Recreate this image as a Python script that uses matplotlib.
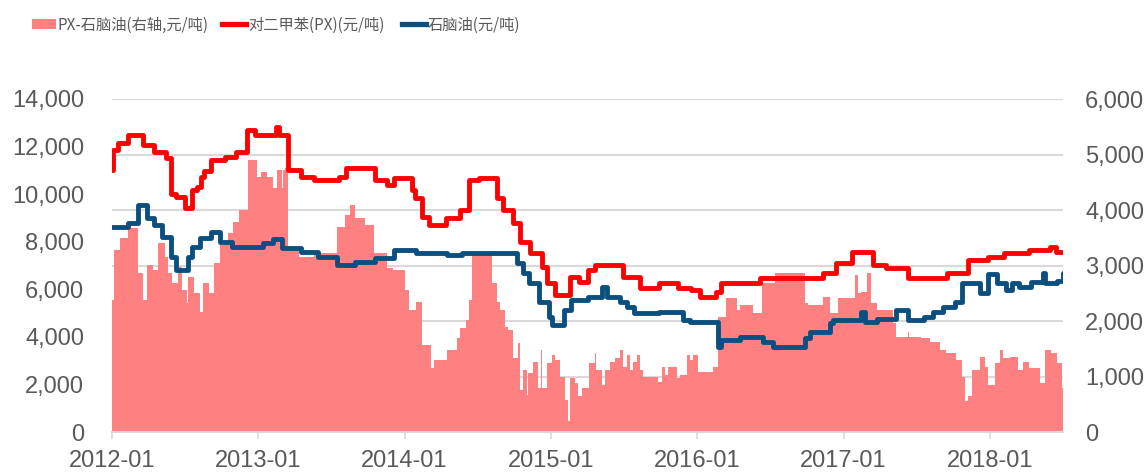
import matplotlib
matplotlib.use("Agg")
import matplotlib.pyplot as plt
from matplotlib.lines import Line2D
from matplotlib.patches import Patch

plt.rcParams['font.family'] = ['Liberation Sans', 'Noto Sans CJK SC', 'DejaVu Sans']

# ---- data (x in decimal years) ----
px_t = [2012.00, 2012.01, 2012.04, 2012.11, 2012.21, 2012.29, 2012.37, 2012.40, 2012.44, 2012.50,
        2012.55, 2012.58, 2012.61, 2012.63, 2012.68, 2012.77, 2012.85, 2012.92, 2012.98, 2013.12,
        2013.14, 2013.20, 2013.29, 2013.38, 2013.55, 2013.60, 2013.80, 2013.88, 2013.93, 2014.05,
        2014.07, 2014.12, 2014.17, 2014.28, 2014.38, 2014.44, 2014.51, 2014.63, 2014.67, 2014.74,
        2014.79, 2014.86, 2014.94, 2014.97, 2015.03, 2015.13, 2015.19, 2015.25, 2015.30, 2015.49,
        2015.61, 2015.74, 2015.87, 2015.96, 2016.02, 2016.13, 2016.16, 2016.43, 2016.86, 2016.95,
        2017.06, 2017.20, 2017.29, 2017.44, 2017.71, 2017.85, 2017.99, 2018.10, 2018.27, 2018.41,
        2018.45, 2018.50]
px_v = [11000, 11850, 12130, 12480, 12060, 11790, 11500, 10000, 9890, 9410,
        10170, 10310, 10730, 10990, 11430, 11570, 11790, 12700, 12480, 12820,
        12500, 11010, 10730, 10590, 10730, 11100, 10590, 10380, 10660, 10170,
        9820, 9050, 8700, 9000, 9330, 10590, 10660, 9820, 9330, 8780,
        8000, 7510, 6950, 6260, 5760, 6530, 6320, 6810, 7020, 6530,
        6040, 6260, 6040, 5970, 5690, 5900, 6260, 6460, 6670, 7100,
        7580, 7020, 6880, 6460, 6670, 7230, 7370, 7510, 7650, 7790,
        7580, 7580]

nap_t = [2012.00, 2012.11, 2012.18, 2012.24, 2012.29, 2012.34, 2012.40, 2012.44, 2012.52, 2012.55,
         2012.60, 2012.68, 2012.74, 2012.82, 2013.03, 2013.10, 2013.16, 2013.29, 2013.41, 2013.54,
         2013.66, 2013.80, 2013.93, 2014.08, 2014.29, 2014.39, 2014.77, 2014.81, 2014.85, 2014.92,
         2014.99, 2015.01, 2015.09, 2015.14, 2015.25, 2015.35, 2015.38, 2015.47, 2015.52, 2015.57,
         2015.74, 2015.90, 2015.95, 2016.14, 2016.16, 2016.29, 2016.45, 2016.52, 2016.74, 2016.77,
         2016.91, 2016.93, 2017.12, 2017.15, 2017.23, 2017.36, 2017.44, 2017.55, 2017.61, 2017.68,
         2017.76, 2017.81, 2017.93, 2017.99, 2018.05, 2018.11, 2018.15, 2018.20, 2018.28, 2018.36,
         2018.38, 2018.46, 2018.50]
nap_v = [8630, 8770, 9540, 8980, 8700, 8210, 7370, 6810, 7370, 7790,
         8140, 8420, 8000, 7790, 7930, 8100, 7720, 7580, 7370, 7020,
         7160, 7300, 7650, 7510, 7440, 7510, 7090, 6670, 6250, 5480,
         4850, 4500, 5130, 5550, 5690, 6110, 5690, 5480, 5270, 4990,
         5060, 4710, 4640, 3590, 3870, 4010, 3800, 3590, 3940, 4220,
         4570, 4710, 5060, 4640, 4740, 5130, 4710, 4850, 5060, 5270,
         5480, 6250, 5830, 6650, 6250, 5970, 6250, 6110, 6320, 6670,
         6250, 6350, 6670]

spread_t = [2012.00, 2012.015, 2012.055, 2012.109, 2012.178, 2012.212, 2012.239, 2012.28, 2012.315, 2012.36,
            2012.38, 2012.41, 2012.45, 2012.48, 2012.51, 2012.52, 2012.56, 2012.60, 2012.62, 2012.66,
            2012.70, 2012.74, 2012.79, 2012.83, 2012.87, 2012.93, 2012.99, 2013.02, 2013.06, 2013.10,
            2013.13, 2013.16, 2013.17, 2013.18, 2013.20, 2013.28, 2013.38, 2013.54, 2013.59, 2013.63,
            2013.66, 2013.73, 2013.79, 2013.88, 2013.92, 2014.00, 2014.03, 2014.08, 2014.12, 2014.18,
            2014.20, 2014.29, 2014.36, 2014.38, 2014.42, 2014.44, 2014.46, 2014.60, 2014.63, 2014.65,
            2014.686, 2014.707, 2014.741, 2014.775, 2014.789, 2014.809, 2014.837, 2014.843, 2014.878, 2014.912,
            2014.932, 2014.942, 2014.973, 2015.007, 2015.028, 2015.062, 2015.096, 2015.120, 2015.130, 2015.165,
            2015.185, 2015.213, 2015.260, 2015.301, 2015.308, 2015.349, 2015.370, 2015.404, 2015.438, 2015.472,
            2015.493, 2015.520, 2015.541, 2015.561, 2015.588, 2015.609, 2015.629, 2015.732, 2015.760, 2015.780,
            2015.800, 2015.862, 2015.882, 2015.930, 2015.951, 2015.971, 2016.005, 2016.108, 2016.142, 2016.20,
            2016.27, 2016.29, 2016.38, 2016.44, 2016.53, 2016.74, 2016.76, 2016.86, 2016.91, 2016.96,
            2017.075, 2017.10, 2017.12, 2017.16, 2017.19, 2017.23, 2017.335, 2017.36, 2017.44, 2017.45,
            2017.53, 2017.59, 2017.66, 2017.70, 2017.77, 2017.81, 2017.83, 2017.85, 2017.88, 2017.93,
            2017.97, 2017.99, 2018.035, 2018.07, 2018.09, 2018.14, 2018.19, 2018.23, 2018.27, 2018.34,
            2018.38, 2018.42, 2018.46, 2018.495, 2018.50]
spread_v = [2380, 3280, 3490, 3670, 2860, 2380, 3010, 2920, 3400, 3160,
            2860, 2680, 2980, 2560, 2320, 2800, 2500, 2170, 2680, 2500,
            3040, 3370, 3580, 3790, 4000, 4900, 4600, 4690, 4600, 4390,
            4720, 4400, 4720, 4750, 3340, 3160, 3220, 3700, 3910, 4090,
            3850, 3730, 3220, 2950, 2920, 2560, 2200, 2350, 1570, 1150,
            1300, 1480, 1700, 1870, 2020, 2380, 3250, 2680, 2350, 2200,
            1900, 1840, 1330, 1600, 760, 1120, 670, 1060, 1270, 800,
            1480, 790, 1240, 1390, 1300, 1000, 580, 190, 970, 880,
            640, 790, 1240, 1420, 1120, 850, 1120, 1270, 1330, 1480,
            1170, 1390, 1120, 1270, 1390, 1120, 990, 900, 1170, 1030,
            1180, 970, 1030, 1390, 1300, 1390, 1090, 1180, 2080, 2410,
            2200, 2290, 2140, 2680, 2860, 2320, 2290, 2440, 2140, 2410,
            2830, 2500, 2530, 2860, 2320, 2200, 1960, 1720, 1800, 1720,
            1700, 1630, 1480, 1420, 1300, 1000, 550, 640, 1120, 1360,
            1180, 850, 1240, 1480, 1330, 1360, 1120, 1270, 1150, 880,
            1480, 1420, 1240, 800, 800]

year_ticks = [2012, 2013, 2014, 2015, 2016, 2017, 2018]
year_labels = ['2012-01', '2013-01', '2014-01', '2015-01', '2016-01', '2017-01', '2018-01']
left_ticks = [0, 2000, 4000, 6000, 8000, 10000, 12000, 14000]
right_ticks = [0, 1000, 2000, 3000, 4000, 5000, 6000]

names = ['PX-石脑油(右轴,元/吨)', '对二甲苯(PX)(元/吨)', '石脑油(元/吨)']

# ---- style ----
TXT = '#595959'
GRID = '#d9d9d9'
C_FILL = '#FF8080'
C_PX = '#FF0000'
C_NAP = '#0B4F80'

fig = plt.figure(figsize=(11.48, 4.73), dpi=100)
ax = fig.add_axes([112/1148, 1-432/473, (1063-112)/1148, (432-99)/473])
ax2 = ax.twinx()
ax.set_zorder(2)
ax2.set_zorder(1)
ax.patch.set_visible(False)

ax2.fill_between(spread_t, spread_v, step='post', color=C_FILL, lw=0, zorder=2)
ax2.set_ylim(0, 6000)
ax2.set_yticks(right_ticks)
ax2.set_yticklabels([f'{v:,}' for v in right_ticks])
ax2.grid(axis='y', color=GRID, lw=1.5, zorder=0)
ax2.set_axisbelow(True)

ax.plot(px_t, px_v, color=C_PX, lw=3.5, drawstyle='steps-post', solid_joinstyle='round',
        solid_capstyle='round')
ax.plot(nap_t, nap_v, color=C_NAP, lw=3.5, drawstyle='steps-post', solid_joinstyle='round',
        solid_capstyle='round')
ax.set_ylim(0, 14000)
ax.set_yticks(left_ticks)
ax.set_yticklabels([f'{v:,}' for v in left_ticks])
ax.set_xlim(2012.0, 2018.5)
ax.set_xticks(year_ticks)
ax.set_xticklabels(year_labels)

for a in (ax, ax2):
    for s in a.spines.values():
        s.set_visible(False)
ax2.spines['bottom'].set_visible(True)
ax2.spines['bottom'].set_color(GRID)
ax2.spines['bottom'].set_linewidth(1.5)

ax.tick_params(axis='y', length=0, pad=20, labelsize=17, labelcolor=TXT)
ax2.tick_params(axis='y', length=0, pad=16, labelsize=17, labelcolor=TXT)
ax.tick_params(axis='x', length=5, width=1.2, color=GRID, pad=8, labelsize=17, labelcolor=TXT)

handles = [Patch(facecolor=C_FILL, edgecolor='none'),
           Line2D([], [], color=C_PX, lw=3.8),
           Line2D([], [], color=C_NAP, lw=3.8)]
leg_x = [32, 222, 402]
FS = 11
for h, n, lx in zip(handles, names, leg_x):
    fig.legend([h], [n], loc='center left', bbox_to_anchor=(lx/1148, 1-25/473),
               frameon=False, borderpad=0, borderaxespad=0,
               prop={'family': ['Noto Sans CJK SC', 'DejaVu Sans'], 'size': FS},
               handlelength=24/(FS*100/72), handletextpad=0.12, labelcolor=TXT)

fig.savefig('out.png', dpi=100)
